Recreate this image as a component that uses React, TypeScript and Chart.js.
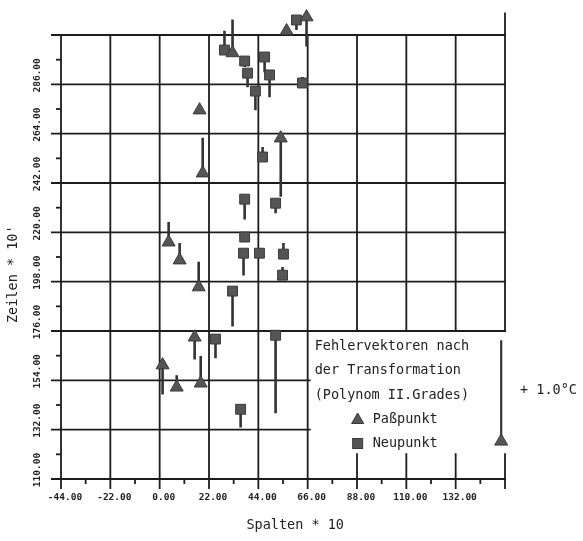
import React, { useEffect, useRef } from "react";
import { Chart, registerables } from "chart.js";

Chart.register(...registerables);

// Axis ticks (Spalten * 10 / Zeilen * 10')
const X_TICKS = [-44, -22, 0, 22, 44, 66, 88, 110, 132, 154];
const Y_TICKS = [110, 132, 154, 176, 198, 220, 242, 264, 286, 308];
const Y_TOP = 318; // room above the grid for markers drawn over the top edge

// Paßpunkte: position and error vector (°C)
const PASS_X = [32.5, 56.6, 65.5, 17.8, 19.2, 54.0, 4.0, 8.9, 17.4, 15.6, 1.3, 7.6, 18.3];
const PASS_Y = [300.0, 309.8, 316.0, 274.5, 246.4, 262.0, 215.6, 207.6, 195.6, 173.2, 160.8, 150.9, 152.7];
const PASS_ERR = [0.33, 0, -0.29, 0, 0.35, -0.58, 0.2, 0.17, 0.25, -0.22, -0.29, 0.12, 0.27];

// Neupunkte: position and error vector (°C)
const NEU_X = [28.9, 37.9, 39.2, 42.7, 46.8, 49.0, 61.0, 63.7, 45.9, 51.7, 37.9, 37.9, 37.4, 44.5, 55.2, 54.8, 32.5, 24.9, 51.7, 36.1];
const NEU_Y = [301.3, 296.4, 291.0, 283.0, 298.2, 290.2, 314.7, 286.6, 253.6, 233.0, 234.8, 217.9, 210.7, 210.7, 210.3, 200.9, 193.8, 172.4, 174.1, 141.1];
const NEU_ERR = [0.19, -0.06, -0.14, -0.19, -0.15, -0.22, -0.1, 0.06, 0.1, -0.1, -0.2, 0.05, -0.22, 0.05, 0.11, 0.08, -0.35, -0.19, -0.77, -0.18];

// Maßstab (+1.0 °C)
const SCALE_X = [152.3];
const SCALE_Y = [126.8];
const SCALE_ERR = [1.0];

const UNITS_PER_DEG = 45.1;

const LEGEND_LINES = ["Fehlervektoren nach", "der Transformation", "(Polynom II.Grades)"];
const LEGEND_PASS = "Paßpunkt";
const LEGEND_NEU = "Neupunkt";
const SCALE_LABEL = "+ 1.0°C";

const MARKER_FILL = "#555555";
const MARKER_EDGE = "#3a3a3a";
const VECTOR_COLOR = "#333333";
const GRID_COLOR = "#1c1c1c";
const TEXT_COLOR = "#222222";
const MONO = '"DejaVu Sans Mono", "Liberation Mono", monospace';

function points(xs: number[], ys: number[]) {
  return xs.map((x, i) => ({ x, y: ys[i] }));
}

function vectors(xs: number[], ys: number[], errs: number[]) {
  const out: { x: number; y: number | null }[] = [];
  xs.forEach((x, i) => {
    out.push({ x, y: ys[i] });
    out.push({ x, y: ys[i] + errs[i] * UNITS_PER_DEG });
    out.push({ x, y: null });
  });
  return out;
}

function drawTriangle(ctx: CanvasRenderingContext2D, cx: number, cy: number, r: number) {
  ctx.beginPath();
  let a = 0;
  ctx.moveTo(cx + Math.sin(a) * r, cy - Math.cos(a) * r);
  a += (2 * Math.PI) / 3;
  ctx.lineTo(cx + Math.sin(a) * r, cy - Math.cos(a) * r);
  a += (2 * Math.PI) / 3;
  ctx.lineTo(cx + Math.sin(a) * r, cy - Math.cos(a) * r);
  ctx.closePath();
  ctx.fill();
  ctx.stroke();
}

const gridPlugin = {
  id: "paperGrid",
  beforeDatasetsDraw(chart: any) {
    const { ctx, scales } = chart;
    const xs = scales.x;
    const ys = scales.y;
    const px = (v: number) => xs.getPixelForValue(v);
    const py = (v: number) => ys.getPixelForValue(v);
    const left = px(-44);
    const right = px(154);
    const top = py(308);
    const bottom = py(110);
    const MAJOR = 10;
    const MINOR = 5;
    ctx.save();
    ctx.strokeStyle = GRID_COLOR;
    ctx.lineWidth = 1.8;
    const line = (x1: number, y1: number, x2: number, y2: number) => {
      ctx.beginPath();
      ctx.moveTo(x1, y1);
      ctx.lineTo(x2, y2);
      ctx.stroke();
    };
    Y_TICKS.forEach((v) => {
      const yy = py(v);
      const xEnd = v > 110 && v < 176 ? px(66) + 3 : right + 1;
      line(left - MAJOR, yy, xEnd, yy);
    });
    X_TICKS.forEach((v) => {
      const xx = px(v);
      if (v > 66) {
        line(xx, v === 154 ? py(Y_TOP) : top, xx, py(176));
        line(xx, py(121.5), xx, bottom + MAJOR);
      } else {
        line(xx, top, xx, bottom + MAJOR);
      }
    });
    for (let i = 0; i < X_TICKS.length - 1; i++) {
      const xx = px((X_TICKS[i] + X_TICKS[i + 1]) / 2);
      line(xx, bottom, xx, bottom + MINOR);
    }
    for (let i = 0; i < Y_TICKS.length - 1; i++) {
      const yy = py((Y_TICKS[i] + Y_TICKS[i + 1]) / 2);
      line(left - MINOR, yy, left, yy);
    }
    ctx.restore();
  },
  afterDatasetsDraw(chart: any) {
    const { ctx, scales } = chart;
    const px = (v: number) => scales.x.getPixelForValue(v);
    const py = (v: number) => scales.y.getPixelForValue(v);
    const lx = px(66) + 7;
    const row0 = py(176) + 15;
    ctx.save();
    ctx.fillStyle = TEXT_COLOR;
    ctx.font = `13.5px ${MONO}`;
    ctx.textBaseline = "middle";
    ctx.textAlign = "left";
    LEGEND_LINES.forEach((t, i) => ctx.fillText(t, lx, row0 + i * 24.5));
    const ry1 = row0 + 3 * 24.5 - 0.5;
    const ry2 = ry1 + 24.5;
    ctx.fillText(LEGEND_PASS, lx + 58, ry1);
    ctx.fillText(LEGEND_NEU, lx + 58, ry2);
    ctx.fillText(SCALE_LABEL, px(154) + 15, py(149.5));
    ctx.fillStyle = MARKER_FILL;
    ctx.strokeStyle = MARKER_EDGE;
    ctx.lineWidth = 1;
    drawTriangle(ctx, lx + 43, ry1 + 1, 7);
    ctx.fillRect(lx + 38, ry2 - 5, 10, 10);
    ctx.strokeRect(lx + 38, ry2 - 5, 10, 10);
    ctx.restore();
  },
};

const tickFont = { family: MONO, size: 9.5, weight: "bold" as const };
const titleFont = { family: MONO, size: 13.5 };

export default function App() {
  const ref = useRef<HTMLCanvasElement>(null);
  useEffect(() => {
    if (!ref.current) return;
    const chart = new Chart(ref.current, {
      type: "scatter",
      data: {
        datasets: [
          {
            label: LEGEND_PASS,
            data: points(PASS_X, PASS_Y),
            pointStyle: "triangle",
            pointRadius: 7.5,
            backgroundColor: MARKER_FILL,
            borderColor: MARKER_EDGE,
            borderWidth: 1,
            clip: false,
          } as any,
          {
            label: LEGEND_NEU,
            data: points(NEU_X, NEU_Y),
            pointStyle: "rect",
            pointRadius: 7,
            backgroundColor: MARKER_FILL,
            borderColor: MARKER_EDGE,
            borderWidth: 1,
            clip: false,
          } as any,
          {
            label: "Maßstab",
            data: points(SCALE_X, SCALE_Y),
            pointStyle: "triangle",
            pointRadius: 7.5,
            backgroundColor: MARKER_FILL,
            borderColor: MARKER_EDGE,
            borderWidth: 1,
            clip: false,
          } as any,
          {
            label: "Vektoren Paßpunkte",
            data: vectors(PASS_X, PASS_Y, PASS_ERR),
            showLine: true,
            spanGaps: false,
            pointRadius: 0,
            borderColor: VECTOR_COLOR,
            borderWidth: 2.6,
            clip: false,
          } as any,
          {
            label: "Vektoren Neupunkte",
            data: vectors(NEU_X, NEU_Y, NEU_ERR),
            showLine: true,
            spanGaps: false,
            pointRadius: 0,
            borderColor: VECTOR_COLOR,
            borderWidth: 2.6,
            clip: false,
          } as any,
          {
            label: "Vektor Maßstab",
            data: vectors(SCALE_X, SCALE_Y, SCALE_ERR),
            showLine: true,
            spanGaps: false,
            pointRadius: 0,
            borderColor: VECTOR_COLOR,
            borderWidth: 2.2,
            clip: false,
          } as any,
        ],
      },
      options: {
        animation: false,
        responsive: false,
        events: [],
        layout: { padding: { left: 0, right: 78, top: 12.6, bottom: 0 } },
        plugins: { legend: { display: false }, tooltip: { enabled: false } },
        scales: {
          x: {
            type: "linear",
            min: -44,
            max: 154,
            afterFit: (s: any) => {
              s.height = 62;
            },
            afterBuildTicks: (s: any) => {
              s.ticks = X_TICKS.map((v) => ({ value: v }));
            },
            ticks: {
              autoSkip: false,
              maxRotation: 0,
              minRotation: 0,
              padding: 13,
              labelOffset: 4,
              color: TEXT_COLOR,
              font: tickFont,
              callback: (v: any) => (Number(v) === 154 ? "" : Number(v).toFixed(2)),
            },
            grid: { display: false, drawTicks: false },
            border: { display: false },
            title: {
              display: true,
              text: "   Spalten * 10",
              color: TEXT_COLOR,
              font: titleFont,
              padding: { top: 0, bottom: 7 },
            },
          },
          y: {
            type: "linear",
            min: 110,
            max: Y_TOP,
            afterFit: (s: any) => {
              s.width = 61;
            },
            afterBuildTicks: (s: any) => {
              s.ticks = Y_TICKS.map((v) => ({ value: v }));
            },
            ticks: {
              autoSkip: false,
              minRotation: 90,
              maxRotation: 90,
              crossAlign: "center",
              padding: 6,
              labelOffset: -9,
              color: TEXT_COLOR,
              font: tickFont,
              callback: (v: any) => (Number(v) === 308 ? "" : Number(v).toFixed(2)),
            },
            grid: { display: false, drawTicks: false },
            border: { display: false },
            title: {
              display: true,
              text: "Zeilen * 10'       ",
              color: TEXT_COLOR,
              font: titleFont,
              padding: { top: 5, bottom: 0 },
            },
          },
        },
      },
      plugins: [gridPlugin],
    } as any);
    return () => chart.destroy();
  }, []);
  return (
    <div style={{ position: "fixed", left: 0, top: 0, width: 583, height: 541, background: "#ffffff" }}>
      <canvas ref={ref} width={583} height={541} style={{ display: "block" }} />
    </div>
  );
}
